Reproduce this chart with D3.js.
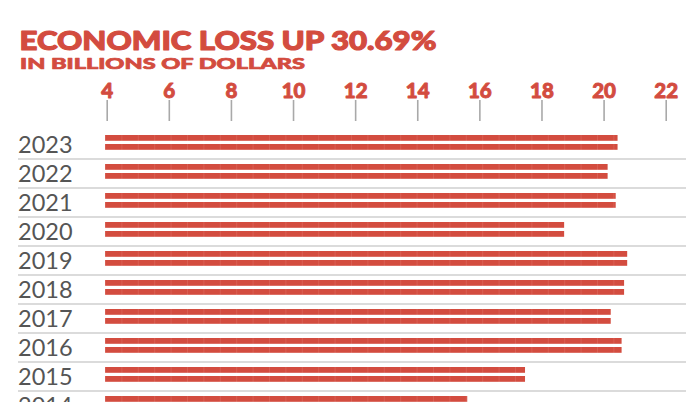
<!DOCTYPE html>
<html><head><meta charset="utf-8">
<script src="https://cdn.jsdelivr.net/npm/d3@7"></script>
<style>html,body{margin:0;padding:0;background:#fff;overflow:hidden}</style>
</head><body>
<svg id="chart" width="686" height="402"></svg>
<script>
const years = ["2023","2022","2021","2020","2019","2018","2017","2016","2015","2014"];
const losses = [20.45, 20.13, 20.39, 18.73, 20.76, 20.66, 20.23, 20.58, 17.47, 15.61];
const tickValues = [4, 6, 8, 10, 12, 14, 16, 18, 20, 22];
const titleText = "ECONOMIC LOSS UP 30.69%";
const subtitleText = "IN BILLIONS OF DOLLARS";

const red = "#d34c3f";
const svg = d3.select("#chart");
const W = 686;

const x = d3.scaleLinear().domain([4, 22]).range([106.7, 665.7]);
const y = d3.scaleBand().domain(years).range([130, 130 + 29 * years.length]).paddingInner(0).paddingOuter(0);

// pattern for segment dividers
const defs = svg.append("defs");
const pat = defs.append("pattern").attr("id","seg").attr("patternUnits","userSpaceOnUse")
  .attr("x", x(4) - 1.7).attr("y", 0).attr("width", 16.4).attr("height", 10);
pat.append("rect").attr("width",16.4).attr("height",10).attr("fill",red);
pat.append("rect").attr("x",0).attr("width",0.8).attr("height",10).attr("fill","#e07a70").attr("opacity",0.45);

// title
svg.append("text").attr("x", 19.5).attr("y", 49.5)
  .attr("font-family","Lato, 'Open Sans', sans-serif").attr("font-weight",900)
  .attr("font-size",26).attr("fill",red)
  .attr("stroke",red).attr("stroke-width",1.1).attr("stroke-linejoin","round")
  .attr("textLength",417).attr("lengthAdjust","spacingAndGlyphs")
  .text(titleText);
svg.append("text").attr("x", 20).attr("y", 69)
  .attr("font-family","Lato, 'Open Sans', sans-serif").attr("font-weight",900)
  .attr("font-size",15.5).attr("fill",red)
  .attr("stroke",red).attr("stroke-width",0.7).attr("stroke-linejoin","round")
  .attr("textLength",285).attr("lengthAdjust","spacingAndGlyphs")
  .text(subtitleText);

// axis
const axis = d3.axisTop(x).tickValues(tickValues).tickSize(21).tickPadding(2.5).tickFormat(d3.format("d"));
const ag = svg.append("g").attr("transform","translate(0,121)").call(axis);
ag.select(".domain").remove();
ag.selectAll(".tick line").attr("stroke","#a9a9a9").attr("stroke-width",1.6);
ag.selectAll(".tick text").attr("fill",red).attr("font-family","Lato, 'Open Sans', sans-serif")
  .attr("font-weight",900).attr("font-size",20.5).attr("dy","0")
  .attr("stroke",red).attr("stroke-width",0.9).attr("stroke-linejoin","round");

// separators
svg.append("g").selectAll("line").data(years).join("line")
  .attr("x1",18).attr("x2",W)
  .attr("y1", d => y(d) + 29).attr("y2", d => y(d) + 29)
  .attr("stroke","#cfcfcf").attr("stroke-width",1.6);

// year labels
svg.append("g").selectAll("text").data(years).join("text")
  .attr("x",18).attr("y", d => y(d) + 23.3)
  .attr("font-family","Lato, 'Open Sans', sans-serif").attr("font-weight",400)
  .attr("font-size",23.5).attr("fill","#555")
  .text(d => d);

// double bars
const rows = years.map((yr, i) => ({yr, v: losses[i]}));
const bg = svg.append("g");
[5, 14].forEach(off => {
  bg.selectAll(null).data(rows).join("rect")
    .attr("x", x(4) - 1.7)
    .attr("y", d => y(d.yr) + off)
    .attr("width", d => x(d.v) - x(4) + 1.7)
    .attr("height", 5.8)
    .attr("fill","url(#seg)");
});
</script>
</body></html>
